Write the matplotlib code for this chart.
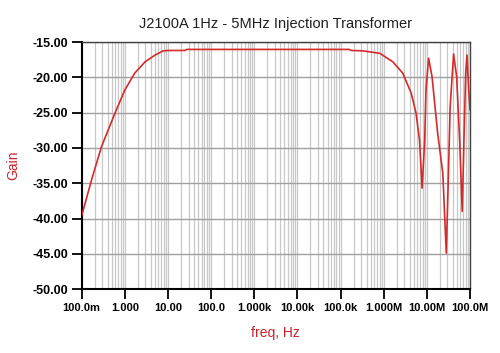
import numpy as np
import matplotlib
matplotlib.use("Agg")
import matplotlib.pyplot as plt
from matplotlib.ticker import LogLocator, NullFormatter, FixedLocator

title = "J2100A 1Hz - 5MHz Injection Transformer"
x_label = "freq, Hz"
y_label = "Gain"

# log10(frequency in Hz) and gain (dB)
log_freq = [-1.0, -0.77, -0.54, -0.23, 0.0, 0.23, 0.47, 0.70, 0.89, 1.0, 1.40, 1.43,
            3.0, 5.2, 5.25, 5.51, 5.91, 6.21, 6.44, 6.64, 6.75, 6.83, 6.89,
            6.95, 6.98, 7.04, 7.12, 7.25, 7.37, 7.45, 7.49, 7.54, 7.62,
            7.69, 7.76, 7.82, 7.86, 7.90, 7.93, 7.97, 8.0]
gain = [-39.6, -34.5, -29.8, -25.1, -21.8, -19.4, -17.8, -16.85, -16.25, -16.2, -16.2, -16.05,
        -16.05, -16.05, -16.2, -16.25, -16.6, -17.8, -19.4, -22.3, -25.1, -28.9, -35.7,
        -28.9, -21.8, -17.3, -19.9, -27.9, -33.6, -44.9, -36.0, -24.2, -16.7,
        -19.9, -28.9, -39.0, -28.9, -19.4, -16.85, -21.8, -24.6]

x_ticks = [0.1, 1, 10, 100, 1e3, 1e4, 1e5, 1e6, 1e7, 1e8]
x_tick_labels = ["100.0m", "1.000", "10.00", "100.0", "1.000k", "10.00k",
                 "100.0k", "1.000M", "10.00M", "100.0M"]
y_ticks = [-50, -45, -40, -35, -30, -25, -20, -15]
y_tick_labels = ["-50.00", "-45.00", "-40.00", "-35.00", "-30.00", "-25.00", "-20.00", "-15.00"]

plt.rcParams['font.family'] = ['Liberation Sans', 'DejaVu Sans']

fig = plt.figure(figsize=(5.0, 3.53), dpi=100)
ax = fig.add_axes([0.1634, 0.181, 0.7766, 0.700])

freq = [10 ** v for v in log_freq]
ax.plot(freq, gain, color='#d42a2a', lw=1.2, zorder=3)

ax.set_xscale('log')
ax.set_xlim(0.1, 1e8)
ax.set_ylim(-50, -15)

ax.xaxis.set_major_locator(FixedLocator(x_ticks))
ax.set_xticklabels(x_tick_labels)
ax.xaxis.set_minor_locator(LogLocator(base=10, subs=np.arange(2, 10), numticks=100))
ax.xaxis.set_minor_formatter(NullFormatter())
ax.set_yticks(y_ticks)
ax.set_yticklabels(y_tick_labels)

ax.grid(True, which='minor', axis='x', color='#c8c8c8', lw=0.9)
ax.grid(True, which='major', axis='x', color='#c8c8c8', lw=0.9)
ax.grid(True, which='major', axis='y', color='#a0a0a0', lw=1.0)
ax.set_axisbelow(True)

ax.tick_params(axis='both', which='major', direction='out', length=7, width=1.3,
               labelsize=8, colors='black', pad=3)
ax.tick_params(axis='y', labelsize=9)
ax.tick_params(axis='x', which='minor', length=0)
for lbl in ax.get_xticklabels() + ax.get_yticklabels():
    lbl.set_fontweight('bold')

for s in ['left', 'bottom']:
    ax.spines[s].set_linewidth(1.5)
    ax.spines[s].set_color('black')
for s in ['top', 'right']:
    ax.spines[s].set_linewidth(1.0)
    ax.spines[s].set_color('#404040')

ax.set_title(title, fontsize=10.5, pad=10, color='#202020')
ax.set_xlabel(x_label, color='#c8202a', fontsize=10)
ax.set_ylabel(y_label, color='#c8202a', fontsize=10)
ax.xaxis.set_label_coords(0.5, -0.178)
ax.xaxis.label.set_va('center')
ax.yaxis.set_label_coords(-0.177, 0.5)
ax.yaxis.label.set_va('center')

fig.savefig("out.png", dpi=100)
